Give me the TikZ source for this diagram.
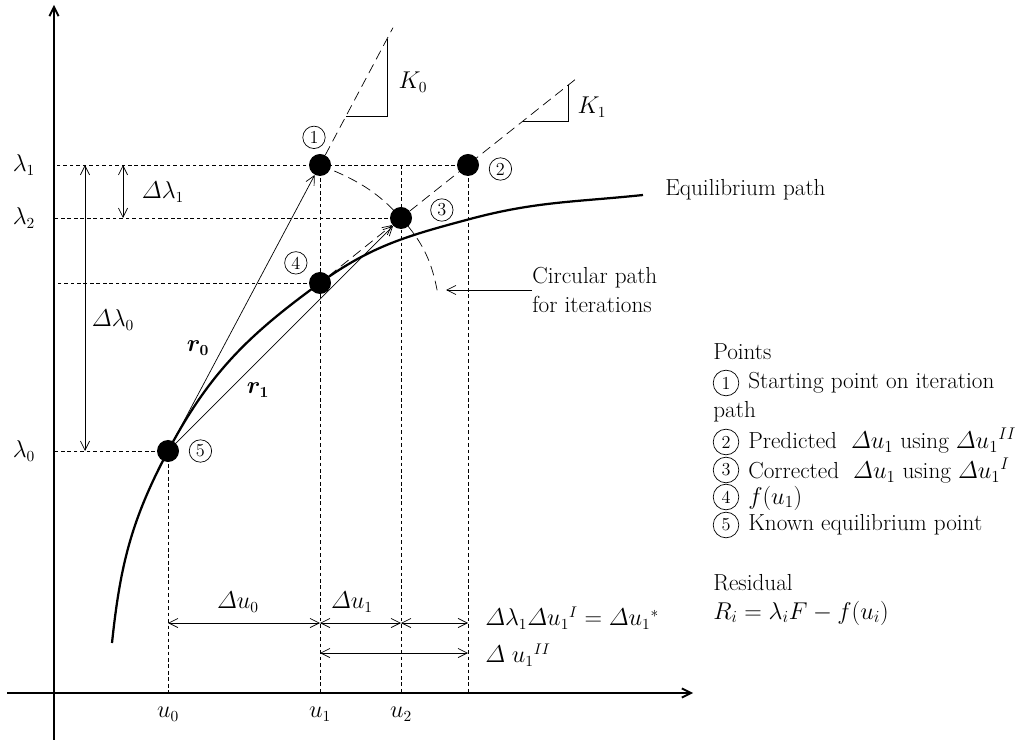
\documentclass[tikz,border=0pt]{standalone}
\usepackage{amsmath,amssymb}
\usepackage{tikz}
\usetikzlibrary{arrows.meta,positioning,calc}

\begin{document}
\begin{tikzpicture}[
    x=0.025cm, y=-0.025cm,
    >={Straight Barb[length=6.5pt,width=6.5pt]},
    axisline/.style={->, line width=1.3pt},
    eqpath/.style={line width=1.6pt},
    guide/.style={dash pattern=on 2.6pt off 2pt, line width=0.5pt},
    kline/.style={dash pattern=on 7pt off 4pt, line width=0.5pt},
    arrow/.style={->, line width=0.5pt},
    dimarrow/.style={<->, line width=0.5pt},
    bigdot/.style={circle, fill=black, inner sep=0pt, minimum size=0.55cm},
    num/.style={circle, draw, line width=0.5pt, inner sep=0pt, minimum size=0.56cm, font=\fontsize{13}{13}\selectfont},
    lbl/.style={font=\fontsize{16}{19}\selectfont, inner sep=0pt},
    txt/.style={font=\fontsize{16.5}{20}\selectfont, align=left, inner sep=0pt},
]
    \useasboundingbox (0,0) rectangle (1030,740);

    % Axes
    \coordinate (o) at (54,693);
    \coordinate (ytop) at (54,5);
    \coordinate (ybot) at (54,740);
    \coordinate (xleft) at (7,693);
    \coordinate (xright) at (693,693);
    \draw[axisline] (ybot) -- (ytop);
    \draw[axisline] (xleft) -- (xright);

    % Points
    \node[bigdot] (p5) at (168,451) {};
    \node[bigdot] (p1) at (320,165) {};
    \node[bigdot] (p2) at (468,165) {};
    \node[bigdot] (p3) at (401,218) {};
    \node[bigdot] (p4) at (320,283) {};

    % Guide lines
    \draw[guide] (p2.center) -- (p2 -| o);
    \draw[guide] (p3.center) -- (p3 -| o);
    \draw[guide] (p4.center) -- (p4 -| o);
    \draw[guide] (p5.center) -- (p5 -| o);
    \draw[guide] (p5.center) -- (p5 |- o);
    \draw[guide] (p1.center) -- (p1 |- o);
    \draw[guide] (p3 |- p1) -- (p3 |- o);
    \draw[guide] (p2.center) -- (p2 |- o);

    % Equilibrium path
    \coordinate (eqstart) at (112,643);
    \coordinate (eqmid) at (470,219);
    \coordinate (eqend) at (643,195);
    \draw[eqpath] (eqstart) to[out=84, in=-118] (p5.center) to[out=62, in=-144] (p4.center)
        to[out=36, in=-165] (eqmid) to[out=15, in=-174] (eqend);
    \node[txt, anchor=west] (eqlbl) at (665,190) {Equilibrium path};

    % Tangents K0 and K1
    \coordinate (k0top) at ($(p5)!1.48!(p1)$);
    \coordinate (k0a) at ($(p5)!1.17!(p1)$);
    \coordinate (k0b) at ($(p5)!1.44!(p1)$);
    \draw[kline] (p1) -- (k0top);
    \draw[line width=0.5pt] (k0a) -| (k0b);
    \coordinate (k1top) at ($(p4)!1.75!(p2)$);
    \coordinate (k1a) at ($(p4)!1.37!(p2)$);
    \coordinate (k1b) at ($(p4)!1.68!(p2)$);
    \draw[kline, ->] (p4) -- (p3);
    \draw[kline] (p3) -- (k1top);
    \draw[line width=0.5pt] (k1a) -| (k1b);
    \node[lbl] (k0) at (413,82) {$K_0$};
    \node[lbl] (k1) at (592,107) {$K_1$};

    % Vectors r0 and r1
    \draw[arrow] (p5) -- (p1);
    \draw[arrow] (p5) -- (p3);
    \node[lbl] (r0) at (198,348) {$\boldsymbol{r_0}$};
    \node[lbl] (r1) at (258,390) {$\boldsymbol{r_1}$};

    % Circular path
    \coordinate (arcend) at (438,295);
    \draw[kline] (p1.center) to[out=-22, in=132] (p3.center) to[out=-48, in=100] (arcend);
    \node[txt, anchor=west] (circ) at (532,290) {Circular path\\for iterations};
    \draw[arrow] (circ.west) -- ++(-86,0);

    % Load increments
    \coordinate (dl0) at (85,0);
    \coordinate (dl1) at (123,0);
    \draw[dimarrow] (p1 -| dl0) -- (p5 -| dl0);
    \draw[dimarrow] (p1 -| dl1) -- (p3 -| dl1);
    \node[lbl] (dlam1) at (163,192) {$\varDelta\lambda_1$};
    \node[lbl] (dlam0) at (113,320) {$\varDelta\lambda_0$};

    % Displacement increments
    \coordinate (row1) at (0,623);
    \coordinate (row2) at (0,653);
    \draw[dimarrow] (p5 |- row1) -- (p1 |- row1);
    \draw[dimarrow] (p1 |- row1) -- (p3 |- row1);
    \draw[dimarrow] (p3 |- row1) -- (p2 |- row1);
    \draw[dimarrow] (p1 |- row2) -- (p2 |- row2);
    \node[lbl] (du0) at (238,602) {$\varDelta u_0$};
    \node[lbl] (du1) at (352,602) {$\varDelta u_1$};
    \node[lbl, anchor=west] (du1s) at (485,618) {$\varDelta\lambda_1\varDelta {u_1}^{I} = \varDelta {u_1}^{*}$};
    \node[lbl, anchor=west] (du1ii) at (485,655) {$\varDelta\ {u_1}^{II}$};

    % Axis labels
    \coordinate (lamx) at (24,0);
    \coordinate (ux) at (0,714);
    \node[lbl] (lam1) at (p1 -| lamx) {$\lambda_1$};
    \node[lbl] (lam2) at (p3 -| lamx) {$\lambda_2$};
    \node[lbl] (lam0) at (p5 -| lamx) {$\lambda_0$};
    \node[lbl] (u0) at (p5 |- ux) {$u_0$};
    \node[lbl] (u1) at (p1 |- ux) {$u_1$};
    \node[lbl] (u2) at (p3 |- ux) {$u_2$};

    % Point numbers
    \node[num, above=0.12cm of p1, xshift=-0.15cm] (n1) {1};
    \node[num, right=0.24cm of p2, yshift=-0.1cm] (n2) {2};
    \node[num, right=0.45cm of p3, yshift=0.2cm] (n3) {3};
    \node[num, above left=0.1cm and 0.2cm of p4] (n4) {4};
    \node[num, right=0.24cm of p5] (n5) {5};

    % Legend
    \node[txt, anchor=west] (pts) at (713,352) {Points};
    \node[num, minimum size=0.64cm] (l1) at (726,383) {1};
    \node[txt, anchor=west] (t1) at (748,383) {Starting point on iteration};
    \node[txt, anchor=west] (t1b) at (713,412) {path};
    \node[num, minimum size=0.64cm] (l2) at (726,442) {2};
    \node[txt, anchor=west] (t2) at (748,441) {Predicted \ $\varDelta u_1$ using $\varDelta {u_1}^{II}$};
    \node[num, minimum size=0.64cm] (l3) at (726,470) {3};
    \node[txt, anchor=west] (t3) at (748,471) {Corrected \ $\varDelta u_1$ using $\varDelta {u_1}^{I}$};
    \node[num, minimum size=0.64cm] (l4) at (726,497) {4};
    \node[txt, anchor=west] (t4) at (748,498) {$f(u_1)$};
    \node[num, minimum size=0.64cm] (l5) at (726,525) {5};
    \node[txt, anchor=west] (t5) at (748,525) {Known equilibrium point};
    \node[txt, anchor=west] (res) at (713,583) {Residual};
    \node[txt, anchor=west] (resf) at (713,613) {$R_i = \lambda_i F - f(u_i)$};
\end{tikzpicture}
\end{document}
